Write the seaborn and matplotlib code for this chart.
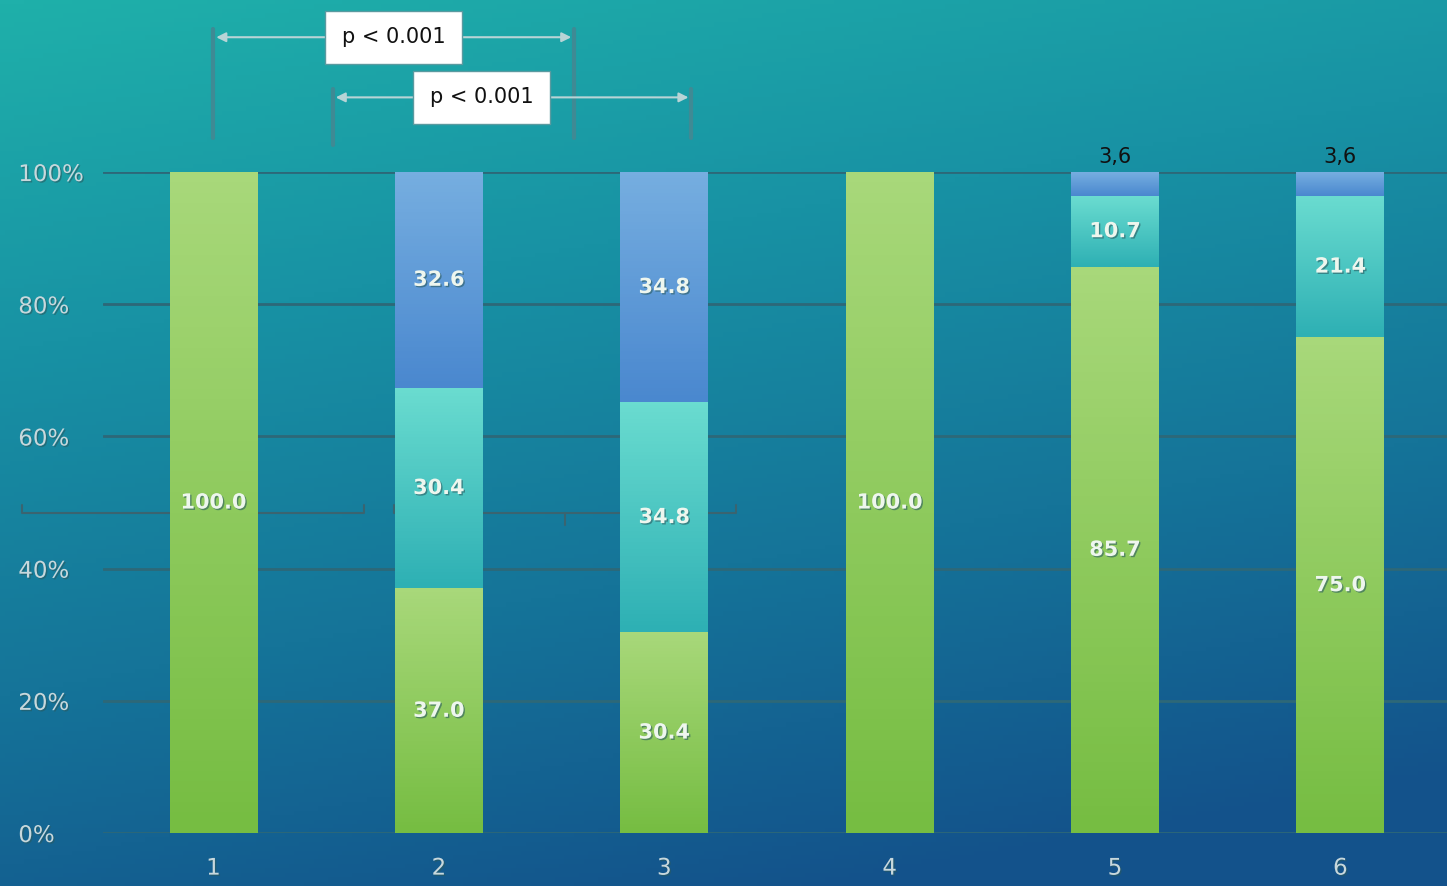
import numpy as np
import pandas as pd
import seaborn as sns
import matplotlib.pyplot as plt
from matplotlib.colors import LinearSegmentedColormap
from matplotlib.transforms import blended_transform_factory
import matplotlib.patheffects as pe

# -------------------------------------------------
# DATA
# -------------------------------------------------

groups = ["1", "2", "3", "4", "5", "6"]
green_vals = [100.0, 37.0, 30.4, 100.0, 85.7, 75.0]
teal_vals = [0.0, 30.4, 34.8, 0.0, 10.7, 21.4]
blue_vals = [0.0, 32.6, 34.8, 0.0, 3.6, 3.6]
pvalue_labels = ["p < 0.001", "p < 0.001"]

# -------------------------------------------------
# FIGURE + BACKGROUND
# -------------------------------------------------

sns.set_style("white")
plt.rcParams["font.family"] = ["DejaVu Sans"]

fig = plt.figure(figsize=(14.47, 8.86), dpi=100)

bg_ax = fig.add_axes([0, 0, 1, 1])
bg_ax.set_axis_off()
yy, xx = np.mgrid[0:1:200j, 0:1:300j]
t = np.clip(0.85 * yy + 0.25 * xx, 0, 1)
bg_cmap = LinearSegmentedColormap.from_list(
    "bg", ["#1fb0aa", "#1892a4", "#157499", "#13528b"])
bg_ax.imshow(bg_cmap(t), extent=[0, 1, 0, 1], aspect="auto", origin="upper")
bg_ax.set_xlim(0, 1)
bg_ax.set_ylim(0, 1)

ax = fig.add_axes([0.0712, 0.0598, 0.933, 0.746])
ax.patch.set_alpha(0)

# -------------------------------------------------
# STACKED BARS
# -------------------------------------------------

bottom_teal = np.array(green_vals)
bottom_blue = bottom_teal + np.array(teal_vals)

series = [
    (green_vals, np.zeros(6), "#8cc85a", ("#a8d87a", "#76bd42")),
    (teal_vals, bottom_teal, "#4cc8c0", ("#6adcd0", "#2eb0b4")),
    (blue_vals, bottom_blue, "#5f9ad8", ("#76aee0", "#4a88cf")),
]

for vals, bottoms, col, grad in series:
    n_before = len(ax.patches)
    sns.barplot(x=groups, y=vals, bottom=bottoms, color=col, width=0.39,
                ax=ax, zorder=3, linewidth=0)
    cm = LinearSegmentedColormap.from_list("g", [grad[0], grad[1]])
    for p in ax.patches[n_before:]:
        if p.get_height() <= 0:
            continue
        x0, y0 = p.get_x(), p.get_y()
        w, h = p.get_width(), p.get_height()
        g = np.linspace(0, 1, 64).reshape(-1, 1)
        im = ax.imshow(cm(g), extent=[x0, x0 + w, y0, y0 + h],
                       aspect="auto", origin="upper", zorder=3.5)
        im.set_clip_path(p)

# -------------------------------------------------
# VALUE LABELS
# -------------------------------------------------

shadow = [pe.withSimplePatchShadow(offset=(1, -1), shadow_rgbFace="#2a5a60", alpha=0.6)]

for i in range(6):
    segs = [(green_vals[i], 0.0),
            (teal_vals[i], green_vals[i]),
            (blue_vals[i], green_vals[i] + teal_vals[i])]
    for v, b in segs:
        if v <= 0:
            continue
        if v < 5:
            ax.text(i, 100.8, f"{v:.1f}".replace(".", ","), ha="center",
                    va="bottom", fontsize=15, color="#111111", zorder=6)
        else:
            ax.text(i, b + v / 2, f"{v:.1f}", ha="center", va="center",
                    fontsize=15, color="#eef6ee", fontweight="bold",
                    zorder=6, path_effects=shadow)

# -------------------------------------------------
# AXES STYLE
# -------------------------------------------------

ax.set_ylim(0, 100)
ax.set_xlim(-0.49, 5.5)
ax.set_yticks([0, 20, 40, 60, 80, 100])
ax.set_yticklabels(["0%", "20%", "40%", "60%", "80%", "100%"])
ax.grid(axis="y", color="#2d6878", linewidth=2, zorder=1)
ax.set_axisbelow(True)
for s in ax.spines.values():
    s.set_visible(False)
ax.tick_params(axis="y", length=0, pad=61, labelsize=16.5, labelcolor="#c8d8dc")
ax.tick_params(axis="x", length=0, pad=17, labelsize=16.5, labelcolor="#c8d8dc")
for lab in ax.get_yticklabels():
    lab.set_horizontalalignment("left")
for lab in ax.get_xticklabels() + ax.get_yticklabels():
    lab.set_path_effects(shadow)
ax.set_xlabel("")
ax.set_ylabel("")

# -------------------------------------------------
# SIGNIFICANCE BRACKETS
# -------------------------------------------------

btr = blended_transform_factory(ax.transData, ax.transAxes)
line_col = "#3f8a94"

brackets = [
    # x_left, x_right, y_arrow, y_low_left, y_low_right, box centre
    (0.0, 1.6, 1.204, 1.051, 1.051, 0.80),
    (0.53, 2.12, 1.113, 1.041, 1.051, 1.19),
]

for (xl, xr, ya, yl1, yl2, xc), lab in zip(brackets, pvalue_labels):
    ax.plot([xl, xl], [yl1, ya + 0.012], transform=btr, color=line_col,
            lw=3, clip_on=False, zorder=5)
    ax.plot([xr, xr], [yl2, ya + 0.012], transform=btr, color=line_col,
            lw=3, clip_on=False, zorder=5)
    ax.annotate("", xy=(xl, ya), xytext=(xr, ya), xycoords=btr, textcoords=btr,
                arrowprops=dict(arrowstyle="<|-|>", color="#b8d4d6", lw=1.5,
                                mutation_scale=14),
                annotation_clip=False, zorder=5)
    ax.text(xc, ya, lab, transform=btr, ha="center", va="center", fontsize=15,
            color="#111111", zorder=7,
            bbox=dict(boxstyle="square,pad=0.8", facecolor="white",
                      edgecolor="#5a9aa0", linewidth=1))

# stray braces across the middle
brace_y = 48.4
ax.plot([-0.85, -0.85, 0.67, 0.67], [brace_y + 1.2, brace_y, brace_y, brace_y + 1.2],
        color="#3a6470", lw=1.5, clip_on=False, zorder=2)
ax.plot([0.80, 0.80, 2.32, 2.32], [brace_y + 1.2, brace_y, brace_y, brace_y + 1.2],
        color="#3a6470", lw=1.5, clip_on=False, zorder=2)
ax.plot([1.56, 1.56], [brace_y, brace_y - 1.8], color="#3a6470", lw=1.5,
        clip_on=False, zorder=2)

fig.savefig("out.png", dpi=100)
